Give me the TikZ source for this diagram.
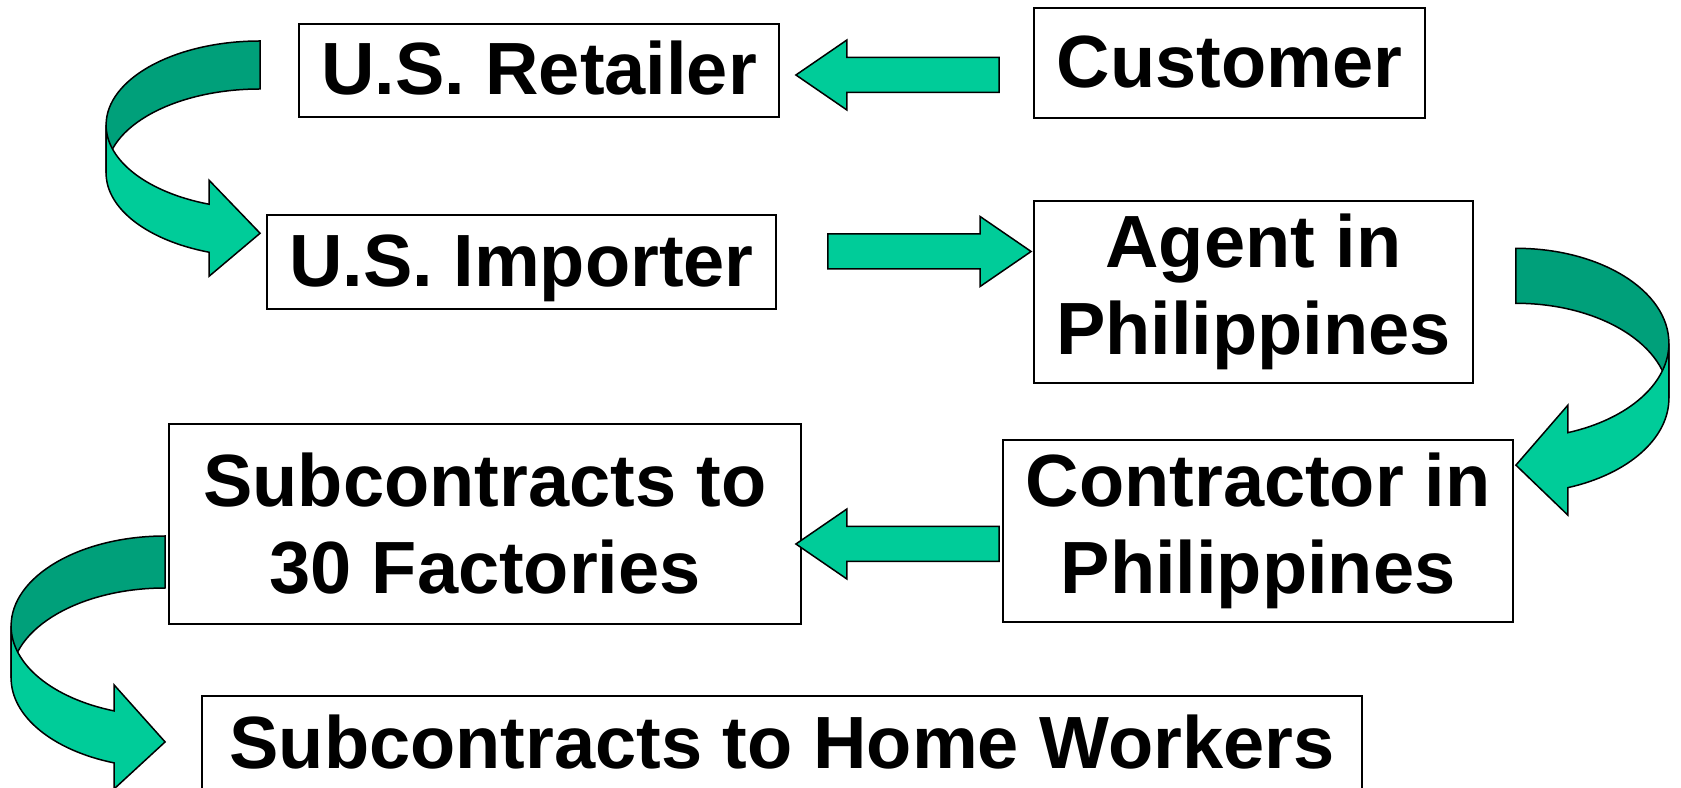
\documentclass[tikz,border=0pt]{standalone}
\usepackage{fontspec}
\setmainfont{Liberation Sans}
\usetikzlibrary{calc}
\definecolor{SCGreen}{RGB}{0,204,153}
\definecolor{SCDark}{RGB}{0,160,122}

% straight block arrow: #1 tail, #2 tip (only its x is used)
\newcommand{\blockarrow}[2]{%
  \filldraw[blockarr] let \p1=#1, \p2=#2, \n1={ifthenelse(\x2>\x1,1,-1)} in
    ({\x1},{\y1+17.5}) -- ({\x2-51*\n1},{\y1+17.5}) -- ({\x2-51*\n1},{\y1+35})
    -- ({\x2},{\y1}) -- ({\x2-51*\n1},{\y1-35}) -- ({\x2-51*\n1},{\y1-17.5})
    -- ({\x1},{\y1-17.5}) -- cycle;}

% curved ribbon arrow: #1 centre, #2 x radius, #3 y radius, #4 band width,
% #5 head base offset, #6 xscale (1 points right, -1 points left)
\newcommand{\ribbonarrow}[6]{%
  \begin{scope}[shift={#1},xscale=#6]
    \pgfmathsetmacro{\ribang}{180+acos(#5/#2)}
    \pgfmathsetmacro{\ribys}{-#3*sin(acos(#5/#2))}
    \filldraw[ribbonback] (0,#3) arc[start angle=90,end angle=180,x radius=#2,y radius=#3]
      -- (-#2,-#4) arc[start angle=180,end angle=90,x radius=#2,y radius=#3] -- cycle;
    \filldraw[ribbonfront] (-#2,0) arc[start angle=180,end angle=\ribang,x radius=#2,y radius=#3]
      -- ({-#5},{\ribys+#4/2}) -- (0,{\ribys-#4/2-5}) -- ({-#5},{\ribys-#4-#4/2}) -- ({-#5},{\ribys-#4})
      arc[start angle=\ribang,end angle=180,x radius=#2,y radius=#3] -- cycle;
  \end{scope}}

\begin{document}
\begin{tikzpicture}[x=1pt,y=1pt,
    box/.style={draw,line width=1.8pt,fill=white,inner sep=0pt,align=center,
                font=\fontsize{74}{87}\selectfont\bfseries},
    oneline/.style={box,text height=53pt,text depth=4pt},
    blockarr/.style={draw,fill=SCGreen,line width=1.5pt},
    ribbonfront/.style={draw,fill=SCGreen,line width=1.5pt},
    ribbonback/.style={draw,fill=SCDark,line width=1.5pt}]
  \useasboundingbox (0,0) rectangle (1681,787);
  \node[oneline,minimum width=480pt,minimum height=93pt] (ret) at (539,716.5) {U.S. Retailer};
  \node[oneline,minimum width=391pt,minimum height=110pt] (cust) at (1229.5,724) {Customer};
  \node[oneline,minimum width=509pt,minimum height=94pt] (imp) at (521.5,525) {U.S. Importer};
  \node[box,minimum width=439pt,minimum height=182pt] (agent) at (1253.5,495) {Agent in\\Philippines};
  \node[box,minimum width=510pt,minimum height=182pt] (contr) at (1258,256) {Contractor in\\Philippines};
  \node[box,minimum width=632pt,minimum height=200pt] (fact) at (485,263) {Subcontracts to\\30 Factories};
  \node[oneline,minimum width=1160pt,minimum height=96pt] (home) at (782,43) {Subcontracts to Home Workers};

  \blockarrow{($(cust.west)+(-34,-12)$)}{($(ret.east)+(16,0)$)}
  \blockarrow{($(imp.east)+(51,10.5)$)}{($(agent.west)+(-2,0)$)}
  \blockarrow{($(contr.west)+(-3,-13)$)}{($(fact.east)+(-6,0)$)}

  \ribbonarrow{($(ret.west)+(-38,-54.5)$)}{154}{84}{48}{51}{1}
  \ribbonarrow{($(agent.east)+(42,-51.3)$)}{153}{95}{55}{52}{-1}
  \ribbonarrow{($(fact.west)+(-3,-102)$)}{154}{90}{52}{51}{1}
\end{tikzpicture}
\end{document}
